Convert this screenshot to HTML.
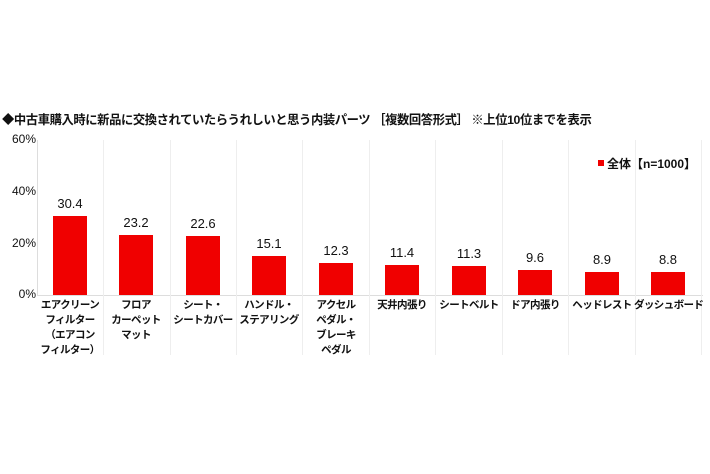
<!DOCTYPE html>
<html><head><meta charset="utf-8"><style>
body{margin:0;background:#fff;width:710px;height:474px;overflow:hidden;position:relative;font-family:"Liberation Sans","Noto Sans CJK JP",sans-serif;color:#111}
.a{position:absolute;white-space:nowrap}
.t{left:2px;top:110px;font-size:12.3px;font-weight:bold;letter-spacing:-0.4px}
.y{left:6px;width:30px;text-align:right;font-size:12px}
.bar{position:absolute;width:34px;background:#f00000}
.v{position:absolute;width:60px;text-align:center;font-size:13px}
.c{position:absolute;width:68px;text-align:center;font-size:10.5px;font-weight:bold;line-height:15px;top:298px;letter-spacing:-0.6px;white-space:nowrap}
.g{position:absolute;top:140px;height:215px;width:1px;background:#eee}
</style></head><body>
<div class="a t">◆中古車購入時に新品に交換されていたらうれしいと思う内装パーツ ［複数回答形式］ ※上位10位までを表示</div>
<div class="a y" style="top:132px">60%</div>
<div class="a y" style="top:184px">40%</div>
<div class="a y" style="top:236px">20%</div>
<div class="a y" style="top:287px">0%</div>
<div style="position:absolute;left:37px;top:140px;width:1px;height:155px;background:#ddd"></div>
<div style="position:absolute;left:37px;top:295px;width:666px;height:1px;background:#ddd"></div>
<div class="g" style="left:103px"></div><div class="g" style="left:170px"></div><div class="g" style="left:236px"></div><div class="g" style="left:302px"></div><div class="g" style="left:369px"></div><div class="g" style="left:435px"></div><div class="g" style="left:502px"></div><div class="g" style="left:568px"></div><div class="g" style="left:635px"></div><div class="g" style="left:701px"></div>
<div class="a" style="left:598px;top:155px;font-size:12px;font-weight:bold"><span style="display:inline-block;width:6px;height:6px;background:#f00000;margin-right:3px;vertical-align:2px"></span>全体【n=1000】</div>

<div class="bar" style="left:53px;top:216px;height:79px"></div><div class="v" style="left:40px;top:196px">30.4</div>
<div class="bar" style="left:119px;top:235px;height:60px"></div><div class="v" style="left:106px;top:215px">23.2</div>
<div class="bar" style="left:186px;top:236px;height:59px"></div><div class="v" style="left:173px;top:216px">22.6</div>
<div class="bar" style="left:252px;top:256px;height:39px"></div><div class="v" style="left:239px;top:236px">15.1</div>
<div class="bar" style="left:319px;top:263px;height:32px"></div><div class="v" style="left:306px;top:243px">12.3</div>
<div class="bar" style="left:385px;top:265px;height:30px"></div><div class="v" style="left:372px;top:245px">11.4</div>
<div class="bar" style="left:452px;top:266px;height:29px"></div><div class="v" style="left:439px;top:246px">11.3</div>
<div class="bar" style="left:518px;top:270px;height:25px"></div><div class="v" style="left:505px;top:250px">9.6</div>
<div class="bar" style="left:585px;top:272px;height:23px"></div><div class="v" style="left:572px;top:252px">8.9</div>
<div class="bar" style="left:651px;top:272px;height:23px"></div><div class="v" style="left:638px;top:252px">8.8</div>

<div class="c" style="left:36px">エアクリーン<br>フィルター<br>（エアコン<br>フィルター）</div>
<div class="c" style="left:102px">フロア<br>カーペット<br>マット</div>
<div class="c" style="left:169px">シート・<br>シートカバー</div>
<div class="c" style="left:235px">ハンドル・<br>ステアリング</div>
<div class="c" style="left:302px">アクセル<br>ペダル・<br>ブレーキ<br>ペダル</div>
<div class="c" style="left:368px">天井内張り</div>
<div class="c" style="left:435px">シートベルト</div>
<div class="c" style="left:501px">ドア内張り</div>
<div class="c" style="left:568px">ヘッドレスト</div>
<div class="c" style="left:634px">ダッシュボード</div>
</body></html>
